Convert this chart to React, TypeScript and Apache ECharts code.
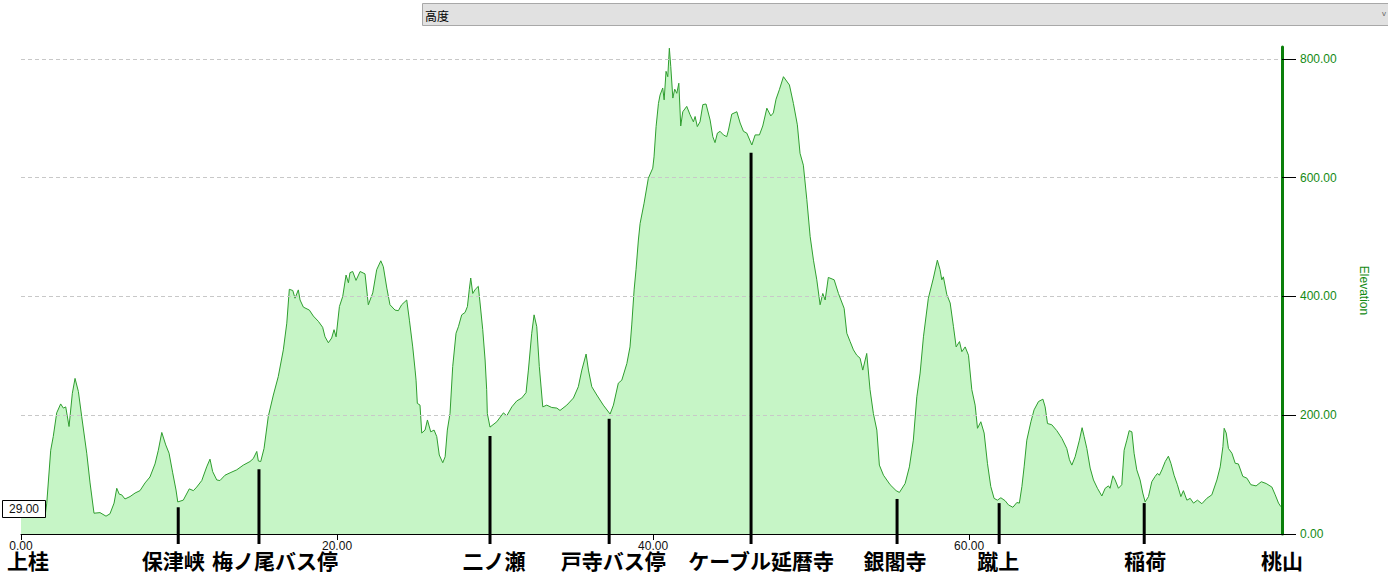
import React, { useEffect, useRef } from 'react';
import * as echarts from 'echarts';

// Elevation profile: [distance km, elevation m]
const elevationProfile: [number, number][] = [
  [0, 29], [1.52, 29], [1.63, 52], [1.88, 141], [2.04, 164], [2.26, 204], [2.51, 219], [2.68, 212], [2.83, 214], [3.04, 181],
  [3.25, 237], [3.42, 262], [3.63, 240], [3.84, 198], [4.16, 136], [4.37, 86], [4.62, 35], [5.0, 36], [5.38, 30], [5.63, 34],
  [5.89, 52], [6.06, 77], [6.22, 67], [6.37, 66], [6.58, 59], [6.9, 63], [7.22, 69], [7.53, 73], [7.85, 86], [8.16, 96],
  [8.48, 118], [8.69, 141], [8.91, 171], [9.16, 150], [9.37, 136], [9.6, 103], [9.81, 74], [9.92, 54], [10.27, 57], [10.65, 76],
  [10.91, 73], [11.12, 79], [11.44, 90], [11.75, 113], [11.96, 126], [12.13, 105], [12.39, 91], [12.59, 90], [12.91, 99], [13.23, 103],
  [13.65, 108], [14.07, 116], [14.49, 122], [14.7, 127], [14.92, 139], [15.02, 123], [15.17, 122], [15.38, 144], [15.65, 198], [15.97, 234],
  [16.28, 265], [16.6, 310], [16.82, 355], [16.98, 412], [17.2, 410], [17.34, 397], [17.55, 411], [17.66, 394], [17.87, 382], [18.25, 377],
  [18.5, 367], [18.82, 358], [19.09, 348], [19.24, 332], [19.45, 322], [19.66, 330], [19.81, 344], [19.94, 332], [20.15, 383], [20.36, 400],
  [20.57, 436], [20.72, 423], [20.82, 440], [20.99, 442], [21.2, 427], [21.46, 442], [21.77, 438], [21.98, 386], [22.26, 406], [22.51, 445],
  [22.77, 460], [22.93, 450], [23.15, 414], [23.35, 386], [23.67, 377], [23.88, 376], [24.09, 386], [24.41, 394], [24.58, 360], [24.79, 315],
  [24.94, 276], [25.0, 259], [25.08, 220], [25.25, 217], [25.36, 170], [25.57, 175], [25.72, 192], [25.93, 172], [26.14, 175], [26.31, 164],
  [26.47, 133], [26.69, 120], [26.84, 130], [26.98, 175], [27.15, 203], [27.32, 282], [27.53, 338], [27.68, 349], [27.89, 369], [28.1, 373],
  [28.25, 383], [28.37, 412], [28.46, 431], [28.59, 405], [28.75, 412], [28.94, 417], [29.05, 389], [29.22, 344], [29.37, 293], [29.47, 243],
  [29.51, 203], [29.68, 180], [30.11, 189], [30.53, 204], [30.74, 199], [31.06, 214], [31.37, 224], [31.69, 229], [31.96, 238], [32.11, 276],
  [32.32, 338], [32.47, 369], [32.64, 349], [32.8, 282], [33.02, 214], [33.27, 217], [33.59, 213], [33.91, 212], [34.11, 208], [34.54, 217],
  [34.96, 229], [35.27, 248], [35.49, 276], [35.76, 303], [35.91, 276], [36.12, 248], [36.44, 234], [36.85, 217], [37.28, 202], [37.49, 217],
  [37.8, 254], [38.02, 259], [38.34, 287], [38.54, 315], [38.65, 352], [38.8, 411], [38.92, 445], [39.07, 495], [39.18, 523], [39.43, 557],
  [39.7, 599], [39.98, 616], [40.06, 635], [40.19, 686], [40.34, 725], [40.44, 739], [40.61, 751], [40.7, 731], [40.82, 779], [40.93, 770],
  [41.03, 818], [41.12, 787], [41.25, 734], [41.37, 749], [41.5, 742], [41.63, 759], [41.75, 687], [41.88, 711], [42.13, 720], [42.34, 706],
  [42.55, 694], [42.66, 703], [42.8, 686], [42.97, 694], [43.15, 723], [43.35, 724], [43.61, 697], [43.78, 669], [43.92, 659], [44.07, 675],
  [44.24, 678], [44.45, 672], [44.66, 669], [44.77, 680], [44.98, 707], [45.3, 711], [45.51, 692], [45.72, 678], [45.93, 675], [46.09, 665],
  [46.25, 655], [46.46, 672], [46.73, 672], [46.94, 687], [47.2, 717], [47.45, 704], [47.61, 709], [47.78, 732], [47.99, 748], [48.25, 770],
  [48.63, 756], [48.88, 725], [49.13, 689], [49.3, 641], [49.51, 621], [49.73, 563], [49.94, 501], [50.15, 461], [50.36, 428], [50.57, 386],
  [50.74, 405], [50.89, 394], [51.09, 432], [51.46, 428], [51.73, 405], [52.09, 380], [52.26, 338], [52.47, 324], [52.68, 310], [52.89, 301],
  [53.1, 296], [53.27, 276], [53.52, 304], [53.73, 243], [53.94, 203], [54.16, 175], [54.32, 116], [54.58, 99], [55.0, 83], [55.38, 73],
  [55.59, 70], [55.95, 85], [56.22, 113], [56.47, 158], [56.69, 231], [56.9, 271], [57.11, 332], [57.42, 397], [57.74, 431], [57.99, 461],
  [58.16, 445], [58.27, 428], [58.37, 433], [58.59, 403], [58.8, 389], [59.01, 349], [59.18, 315], [59.39, 324], [59.54, 307], [59.75, 315],
  [59.96, 301], [60.17, 243], [60.38, 217], [60.53, 178], [60.74, 189], [60.95, 170], [61.16, 119], [61.37, 80], [61.58, 60], [61.79, 57],
  [62.01, 61], [62.28, 56], [62.49, 49], [62.77, 45], [63.02, 53], [63.18, 52], [63.34, 80], [63.48, 113], [63.65, 158], [63.91, 189],
  [64.11, 209], [64.39, 223], [64.67, 227], [64.81, 214], [64.96, 186], [65.23, 184], [65.55, 174], [65.87, 161], [66.18, 144], [66.35, 125],
  [66.5, 116], [66.71, 130], [66.98, 158], [67.15, 179], [67.28, 164], [67.45, 144], [67.66, 111], [67.87, 91], [68.12, 77], [68.4, 64],
  [68.61, 77], [68.82, 81], [68.92, 77], [69.1, 98], [69.24, 91], [69.45, 77], [69.66, 83], [69.81, 141], [69.98, 158], [70.13, 174],
  [70.3, 172], [70.44, 136], [70.61, 108], [70.82, 91], [70.99, 69], [71.14, 54], [71.35, 63], [71.56, 88], [71.77, 97], [71.92, 102],
  [72.04, 99], [72.2, 108], [72.41, 122], [72.61, 131], [72.77, 119], [72.97, 99], [73.18, 83], [73.4, 63], [73.56, 73], [73.78, 57],
  [73.99, 60], [74.2, 52], [74.45, 57], [74.73, 51], [75.04, 60], [75.36, 66], [75.68, 91], [75.89, 113], [76.06, 147], [76.14, 178],
  [76.27, 170], [76.41, 144], [76.63, 136], [76.84, 119], [77.04, 118], [77.32, 97], [77.58, 94], [77.83, 83], [78.16, 81], [78.49, 88],
  [78.8, 85], [79.16, 79], [79.37, 66], [79.58, 52], [79.73, 46], [79.8, 46],
];

const placeNames = ['上桂', '保津峡', '梅ノ尾バス停', '二ノ瀬', '戸寺バス停', 'ケーブル延暦寺', '銀閣寺', '蹴上', '稲荷', '桃山'];
const placeKm = [0, 9.95, 15.06, 29.68, 37.22, 46.2, 55.44, 61.9, 71.08, 79.8];
const markerTopM: (number | null)[] = [null, 45, 109, 165, 194, 642, 59, 52, 52, null];
const labelShiftPx = [7, -5, 16, 4, 4, 10, -2, -1, 1, 0];

const xTicks = [0, 20, 40, 60];
const yTicks = [0, 200, 400, 600, 800];
const xMax = 79.8;
const yMax = 820;
const startValueText = '29.00';
const selectorText = '高度';
const yAxisName = 'Elevation';

const LATIN = '"Liberation Sans", Arial, sans-serif';
const CJK = '"Noto Sans CJK JP", "Noto Sans CJK SC", sans-serif';

export default function App() {
  const ref = useRef<HTMLDivElement>(null);

  useEffect(() => {
    const chart = echarts.init(ref.current!, null, { renderer: 'svg' });
    const markerData = placeKm.map((km, i) => [km, markerTopM[i] == null ? -1 : markerTopM[i], i]);

    chart.setOption({
      animation: false,
      grid: { left: 21, right: 106, top: 47, bottom: 46, containLabel: false },
      xAxis: {
        type: 'value',
        min: 0,
        max: xMax,
        z: 3,
        axisLine: { show: true, onZero: false, lineStyle: { color: '#000', width: 1 } },
        axisTick: { show: true, length: 6, customValues: xTicks, lineStyle: { color: '#000' } },
        axisLabel: {
          customValues: xTicks,
          formatter: (v: number) => v.toFixed(2),
          color: '#111',
          fontSize: 12,
          fontFamily: LATIN,
          margin: 6,
        },
        splitLine: { show: false },
      },
      yAxis: {
        type: 'value',
        position: 'right',
        min: 0,
        max: yMax,
        z: 3,
        name: yAxisName,
        nameLocation: 'middle',
        nameRotate: -90,
        nameGap: 76,
        nameTextStyle: { color: '#138a13', fontSize: 12, fontFamily: LATIN },
        axisLine: { show: true, onZero: false, lineStyle: { color: '#0a7f0a', width: 3 } },
        axisTick: { show: true, length: 14, customValues: yTicks, lineStyle: { color: '#000' } },
        axisLabel: {
          customValues: yTicks,
          formatter: (v: number) => v.toFixed(2),
          color: '#148a14',
          fontSize: 12,
          fontFamily: LATIN,
          margin: 18,
        },
        splitLine: { show: true, lineStyle: { color: '#c8c8c8', type: [4, 3], width: 1 } },
      },
      series: [
        {
          type: 'line',
          data: elevationProfile,
          showSymbol: false,
          symbol: 'none',
          z: 1,
          lineStyle: { color: '#2f9e2f', width: 1 },
          areaStyle: { color: '#c6f5c6', opacity: 1 },
        },
        {
          type: 'custom',
          z: 5,
          clip: false,
          data: markerData,
          renderItem: (params: any, api: any) => {
            const km = api.value(0);
            const top = api.value(1);
            const idx = api.value(2);
            const base = api.coord([km, 0]);
            const children: any[] = [];
            if (top >= 0) {
              const p = api.coord([km, top]);
              children.push({
                type: 'line',
                shape: { x1: base[0], y1: p[1], x2: base[0], y2: base[1] + 10 },
                style: { stroke: '#000', lineWidth: 3 },
              });
            }
            children.push({
              type: 'text',
              x: base[0] + labelShiftPx[idx],
              y: base[1] + 26,
              style: {
                text: placeNames[idx],
                font: `bold 21px ${CJK}`,
                fill: '#000',
                align: 'center',
                verticalAlign: 'middle',
              },
            });
            return { type: 'group', children };
          },
        },
      ],
      graphic: [
        {
          type: 'rect',
          z: 10,
          shape: { x: 422.5, y: 3.5, width: 975, height: 22 },
          style: { fill: '#e1e1e1', stroke: '#a8a8a8', lineWidth: 1 },
        },
        {
          type: 'text',
          z: 11,
          x: 425,
          y: 15,
          style: { text: selectorText, font: `12px ${CJK}`, fill: '#000', verticalAlign: 'middle' },
        },
        {
          type: 'text',
          z: 11,
          x: 1382,
          y: 13,
          style: { text: 'v', font: `8px ${LATIN}`, fill: '#666', verticalAlign: 'middle' },
        },
        {
          type: 'rect',
          z: 10,
          shape: { x: 2.5, y: 500.5, width: 43, height: 17 },
          style: { fill: '#fff', stroke: '#000', lineWidth: 1 },
        },
        {
          type: 'text',
          z: 11,
          x: 24,
          y: 509,
          style: { text: startValueText, font: `12px ${LATIN}`, fill: '#111', align: 'center', verticalAlign: 'middle' },
        },
      ],
    });

    return () => chart.dispose();
  }, []);

  return <div ref={ref} style={{ position: 'absolute', left: 0, top: 0, width: 1388, height: 580 }} />;
}
